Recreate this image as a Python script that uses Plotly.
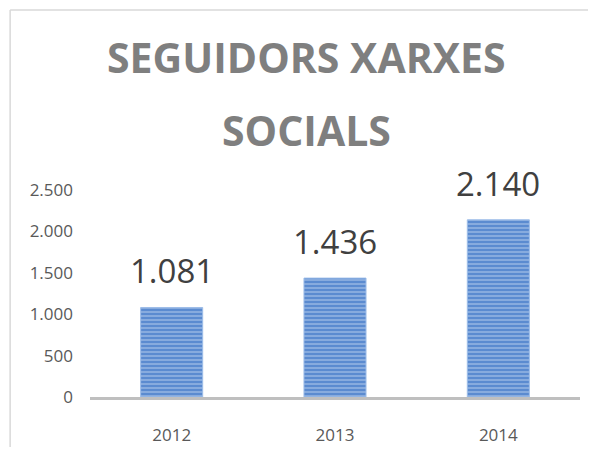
import plotly.graph_objects as go

years = ["2012", "2013", "2014"]
followers = [1081, 1436, 2140]
y_ticks = [0, 500, 1000, 1500, 2000, 2500]
title_lines = ["SEGUIDORS XARXES", "SOCIALS"]

def fmt(v):
    return f"{v:,}".replace(",", ".")

fig = go.Figure()
fig.add_trace(go.Bar(
    x=years, y=followers, width=0.38,
    text=[fmt(v) for v in followers],
    textposition="none",
    marker=dict(
        color="#5b8bd0",
        line=dict(color="#9dbde8", width=1),
        pattern=dict(shape="-", fgcolor="#bcd3f1", size=4, solidity=0.45),
    ),
    hoverinfo="skip",
))

annotations = []
for i, (x, v) in enumerate(zip(years, followers)):
    annotations.append(dict(
        x=i, y=v, xref="x", yref="y", text=fmt(v), showarrow=False,
        yanchor="bottom", yshift=12,
        font=dict(family="Open Sans", size=33, color="#404040"),
    ))
annotations.append(dict(
    x=0.442, y=1.642, xref="paper", yref="paper", text=title_lines[0],
    showarrow=False, yanchor="middle", xanchor="center",
    font=dict(family="Open Sans", size=41, color="#7f7f7f", weight="bold"),
))
annotations.append(dict(
    x=0.442, y=1.29, xref="paper", yref="paper", text=title_lines[1],
    showarrow=False, yanchor="middle", xanchor="center",
    font=dict(family="Open Sans", size=41, color="#7f7f7f", weight="bold"),
))

fig.update_layout(
    width=580, height=439,
    margin=dict(l=82, r=8, t=182, b=50),
    paper_bgcolor="white", plot_bgcolor="white",
    separators=",.",
    showlegend=False,
    annotations=annotations,
    shapes=[
        dict(type="line", xref="paper", yref="paper",
             x0=-0.163, x1=-0.163, y0=-0.3, y1=1.8696,
             line=dict(color="#d9d9d9", width=1.5)),
        dict(type="line", xref="paper", yref="paper",
             x0=-0.163, x1=1.1, y0=1.8696, y1=1.8696,
             line=dict(color="#d9d9d9", width=1.5)),
    ],
    xaxis=dict(
        type="category", categoryorder="array", categoryarray=years,
        range=[-0.5, 2.5], autorange=False, automargin=False,
        showline=True, linecolor="#bfbfbf", linewidth=3,
        showgrid=False, ticks="", ticklabelstandoff=21,
        tickfont=dict(family="Open Sans", size=17, color="#595959"),
        fixedrange=True,
    ),
    yaxis=dict(
        range=[0, 2500], autorange=False, automargin=False,
        tickvals=y_ticks, tickformat=",d",
        showgrid=False, zeroline=False, showline=False, ticks="",
        ticklabelstandoff=16,
        tickfont=dict(family="Open Sans", size=17, color="#595959"),
        fixedrange=True,
    ),
)

fig.write_html("out.html")
